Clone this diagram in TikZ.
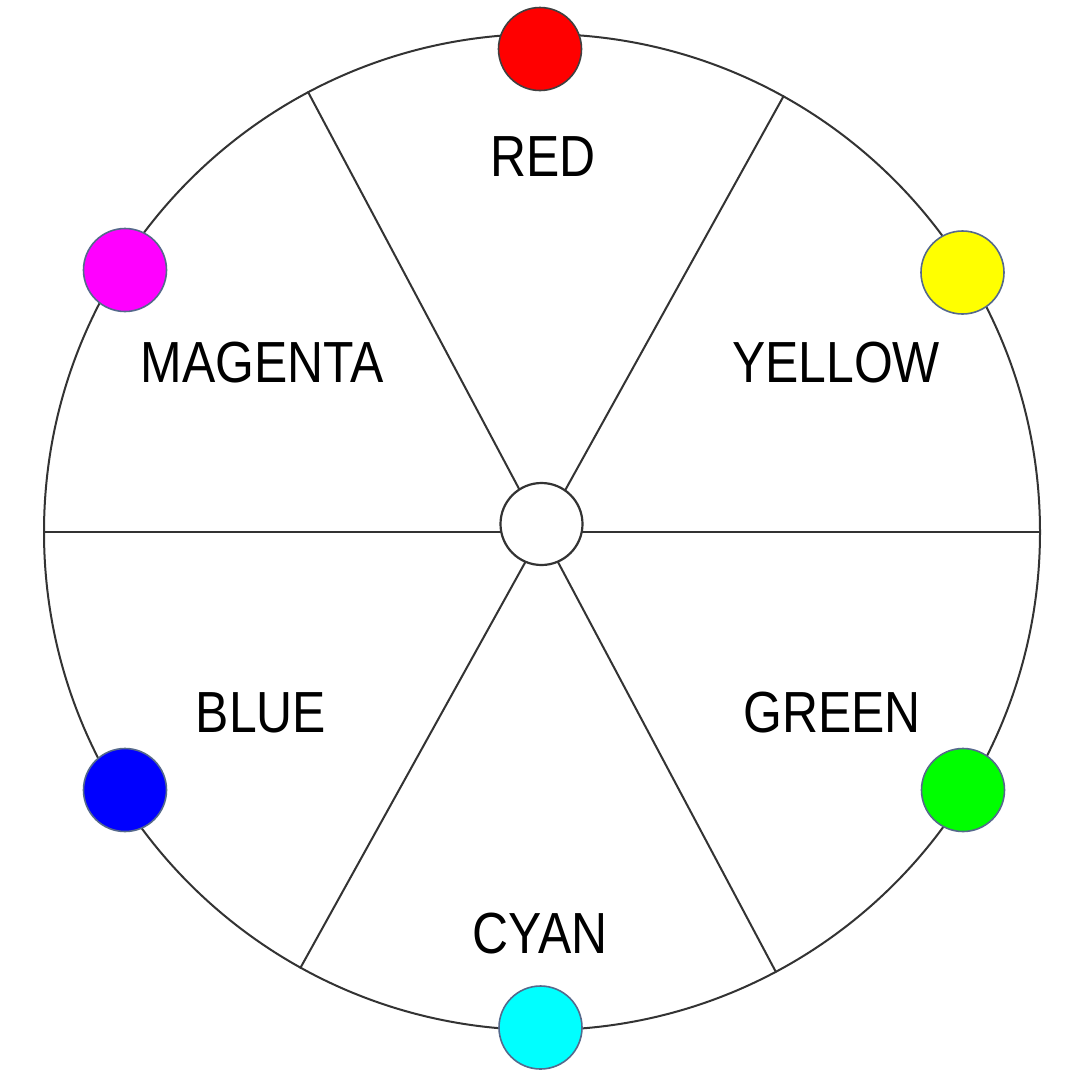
\documentclass[tikz,border=0pt]{standalone}
\usepackage{fontspec}
\setmainfont[FakeStretch=0.86]{Liberation Sans}
\begin{document}
\begin{tikzpicture}[x=1pt,y=-1pt,
  ring/.style={circle,draw=black!80,line width=2pt,inner sep=0pt,minimum size=996pt},
  spoke/.style={draw=black!80,line width=2pt},
  hub/.style={circle,draw=black!80,line width=2.2pt,fill=white,inner sep=0pt,minimum size=82pt},
  dot/.style={circle,draw=#1,line width=1.6pt,inner sep=0pt,minimum size=83pt},
  lbl/.style={inner sep=0pt,font=\fontsize{58}{60}\selectfont}]
\useasboundingbox (0,0) rectangle (1080,1080);
\fill[white] (0,0) rectangle (1080,1080);
\node[ring] (big) at (542,532) {};
\coordinate (o) at (542,532);
\draw[spoke] (o) -- (big.0);
\draw[spoke] (o) -- (big.180);
\draw[spoke] (o) -- (big.61.4);
\draw[spoke] (o) -- (big.118.6);
\draw[spoke] (o) -- (big.241.4);
\draw[spoke] (o) -- (big.298.6);
\node[hub] (c) at (541.5,524) {};
\definecolor{dotedge}{RGB}{85,105,140}
\node[dot=black!75,fill={rgb,255:red,255;green,0;blue,0}] (red) at (540,49) {};
\node[dot=dotedge,fill={rgb,255:red,255;green,255;blue,0}] (yellow) at (962.5,272.5) {};
\node[dot=dotedge,fill={rgb,255:red,255;green,0;blue,255}] (magenta) at (125,270) {};
\node[dot=dotedge,fill={rgb,255:red,0;green,0;blue,255}] (blue) at (125,790) {};
\node[dot=dotedge,fill={rgb,255:red,0;green,255;blue,0}] (green) at (963,790) {};
\node[dot=dotedge,fill={rgb,255:red,0;green,255;blue,255}] (cyan) at (540.5,1027.5) {};
\node[lbl] (lred) at (543,157) {RED};
\node[lbl] (lyellow) at (836,363) {YELLOW};
\node[lbl] (lmagenta) at (262,363) {MAGENTA};
\node[lbl] (lblue) at (261,713) {BLUE};
\node[lbl] (lgreen) at (832,713) {GREEN};
\node[lbl] (lcyan) at (540,934) {CYAN};
\end{tikzpicture}
\end{document}
